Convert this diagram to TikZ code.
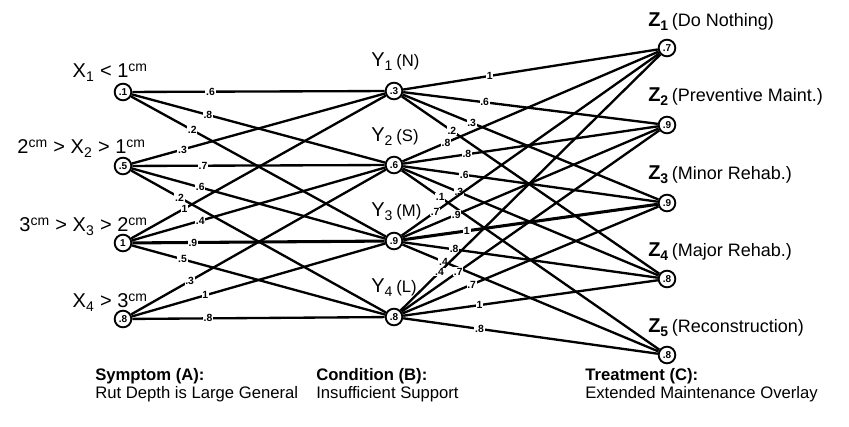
\documentclass[tikz,border=0pt]{standalone}
\usepackage{fontspec}
\setmainfont{Liberation Sans}
\tikzset{
  val/.style={circle, draw, line width=1.4pt, minimum size=12.5pt, inner sep=0pt, font=\fontsize{7.5}{8}\selectfont\bfseries},
  wt/.style={font=\fontsize{7.8}{8}\selectfont\bfseries, fill=white, inner sep=0.6pt},
  edge/.style={line width=1.75pt},
  thickedge/.style={line width=2.3pt},
  biglab/.style={font=\fontsize{15}{18}\selectfont, inner sep=0pt},
  zlab/.style={font=\fontsize{13.5}{16}\selectfont, inner sep=0pt, anchor=base west},
  foot/.style={font=\fontsize{12.5}{14}\selectfont, inner sep=0pt, anchor=base west},
}
\begin{document}
\begin{tikzpicture}[x=0.75pt, y=-0.75pt]
\useasboundingbox (0,0) rectangle (849,427);
% value nodes
\node[val] (x1) at (123,92) {.1};
\node[val] (x2) at (123,166) {.5};
\node[val] (x3) at (123,243) {1};
\node[val] (x4) at (123,319) {.8};
\node[val] (y1) at (394,91) {.3};
\node[val] (y2) at (394,165) {.6};
\node[val] (y3) at (394,241) {.9};
\node[val] (y4) at (394,317) {.8};
\node[val] (z1) at (667,48) {.7};
\node[val] (z2) at (667,125) {.9};
\node[val] (z3) at (667,203) {.9};
\node[val] (z4) at (667,279) {.8};
\node[val] (z5) at (667,355) {.8};
% X labels
\node[biglab, anchor=base east] (xl1) at (148,78) {X\textsubscript{1} < 1\textsuperscript{cm}};
\node[biglab, anchor=base east] (xl2) at (146,154) {2\textsuperscript{cm} > X\textsubscript{2} > 1\textsuperscript{cm}};
\node[biglab, anchor=base east] (xl3) at (148,232) {3\textsuperscript{cm} > X\textsubscript{3} > 2\textsuperscript{cm}};
\node[biglab, anchor=base east] (xl4) at (148,308) {X\textsubscript{4} > 3\textsuperscript{cm}};
% Y labels
\node[biglab, anchor=base west] (yl1) at (371,67) {Y\textsubscript{1}\,{\fontsize{12.5}{14}\selectfont(N)}};
\node[biglab, anchor=base west] (yl2) at (371,142) {Y\textsubscript{2}\,{\fontsize{12.5}{14}\selectfont(S)}};
\node[biglab, anchor=base west] (yl3) at (371,217) {Y\textsubscript{3}\,{\fontsize{12.5}{14}\selectfont(M)}};
\node[biglab, anchor=base west] (yl4) at (371,293) {Y\textsubscript{4}\,{\fontsize{12.5}{14}\selectfont(L)}};
% Z labels
\node[zlab] (zl1) at (648,27) {{\fontsize{15}{18}\selectfont\bfseries Z\textsubscript{1}}\,(Do Nothing)};
\node[zlab] (zl2) at (648,102) {{\fontsize{15}{18}\selectfont\bfseries Z\textsubscript{2}}\,(Preventive Maint.)};
\node[zlab] (zl3) at (648,180) {{\fontsize{15}{18}\selectfont\bfseries Z\textsubscript{3}}\,(Minor Rehab.)};
\node[zlab] (zl4) at (648,257) {{\fontsize{15}{18}\selectfont\bfseries Z\textsubscript{4}}\,(Major Rehab.)};
\node[zlab] (zl5) at (648,333) {{\fontsize{15}{18}\selectfont\bfseries Z\textsubscript{5}}\,(Reconstruction)};
% footer
\node[foot] (fa1) at (95,380) {\bfseries Symptom (A):};
\node[foot] (fa2) at (95,398) {Rut Depth is Large General};
\node[foot] (fb1) at (316,380) {\bfseries Condition (B):};
\node[foot] (fb2) at (316,398) {Insufficient Support};
\node[foot] (fc1) at (585,380) {\bfseries Treatment (C):};
\node[foot] (fc2) at (585,398) {Extended Maintenance Overlay};
% X -> Y edges
\draw[edge] (x1) -- node[wt, pos=0.31] {.6} (y1);
\draw[edge] (x1) -- node[wt, pos=0.30] {.8} (y2);
\draw[edge] (x1) -- node[wt, pos=0.24] {.2} (y3);
\draw[edge] (x2) -- node[wt, pos=0.20] {.3} (y1);
\draw[edge] (x2) -- node[wt, pos=0.28] {.7} (y2);
\draw[edge] (x2) -- node[wt, pos=0.27] {.6} (y3);
\draw[edge] (x2) -- node[wt, pos=0.19] {.2} (y4);
\draw[edge] (x3) -- node[wt, pos=0.21] {1} (y1);
\draw[edge] (x3) -- node[wt, pos=0.27] {.4} (y2);
\draw[thickedge] (x3) -- node[wt, pos=0.24] {.9} (y3);
\draw[edge] (x3) -- node[wt, pos=0.20] {.5} (y4);
\draw[edge] (x4) -- node[wt, pos=0.23] {.3} (y2);
\draw[edge] (x4) -- node[wt, pos=0.29] {1} (y3);
\draw[edge] (x4) -- node[wt, pos=0.30] {.8} (y4);
% Y -> Z edges
\draw[edge] (y1) -- node[wt, pos=0.34] {1} (z1);
\draw[edge] (y1) -- node[wt, pos=0.32] {.6} (z2);
\draw[edge] (y1) -- node[wt, pos=0.27] {.3} (z3);
\draw[edge] (y1) -- node[wt, pos=0.195] {.2} (z4);
\draw[edge] (y2) -- node[wt, pos=0.17] {.8} (z1);
\draw[edge] (y2) -- node[wt, pos=0.25] {.8} (z2);
\draw[edge] (y2) -- node[wt, pos=0.24] {.6} (z3);
\draw[edge] (y2) -- node[wt, pos=0.22] {.3} (z4);
\draw[edge] (y2) -- node[wt, pos=0.15] {.1} (z5);
\draw[edge] (y3) -- node[wt, pos=0.13] {.7} (z1);
\draw[edge] (y3) -- node[wt, pos=0.21] {.9} (z2);
\draw[thickedge] (y3) -- node[wt, pos=0.25] {1} (z3);
\draw[edge] (y3) -- node[wt, pos=0.20] {.8} (z4);
\draw[edge] (y3) -- node[wt, pos=0.16] {.4} (z5);
\draw[edge] (y4) -- node[wt, pos=0.15] {.4} (z1);
\draw[edge] (y4) -- node[wt, pos=0.22] {.7} (z2);
\draw[edge] (y4) -- node[wt, pos=0.27] {.7} (z3);
\draw[edge] (y4) -- node[wt, pos=0.30] {1} (z4);
\draw[edge] (y4) -- node[wt, pos=0.30] {.8} (z5);
\end{tikzpicture}
\end{document}
